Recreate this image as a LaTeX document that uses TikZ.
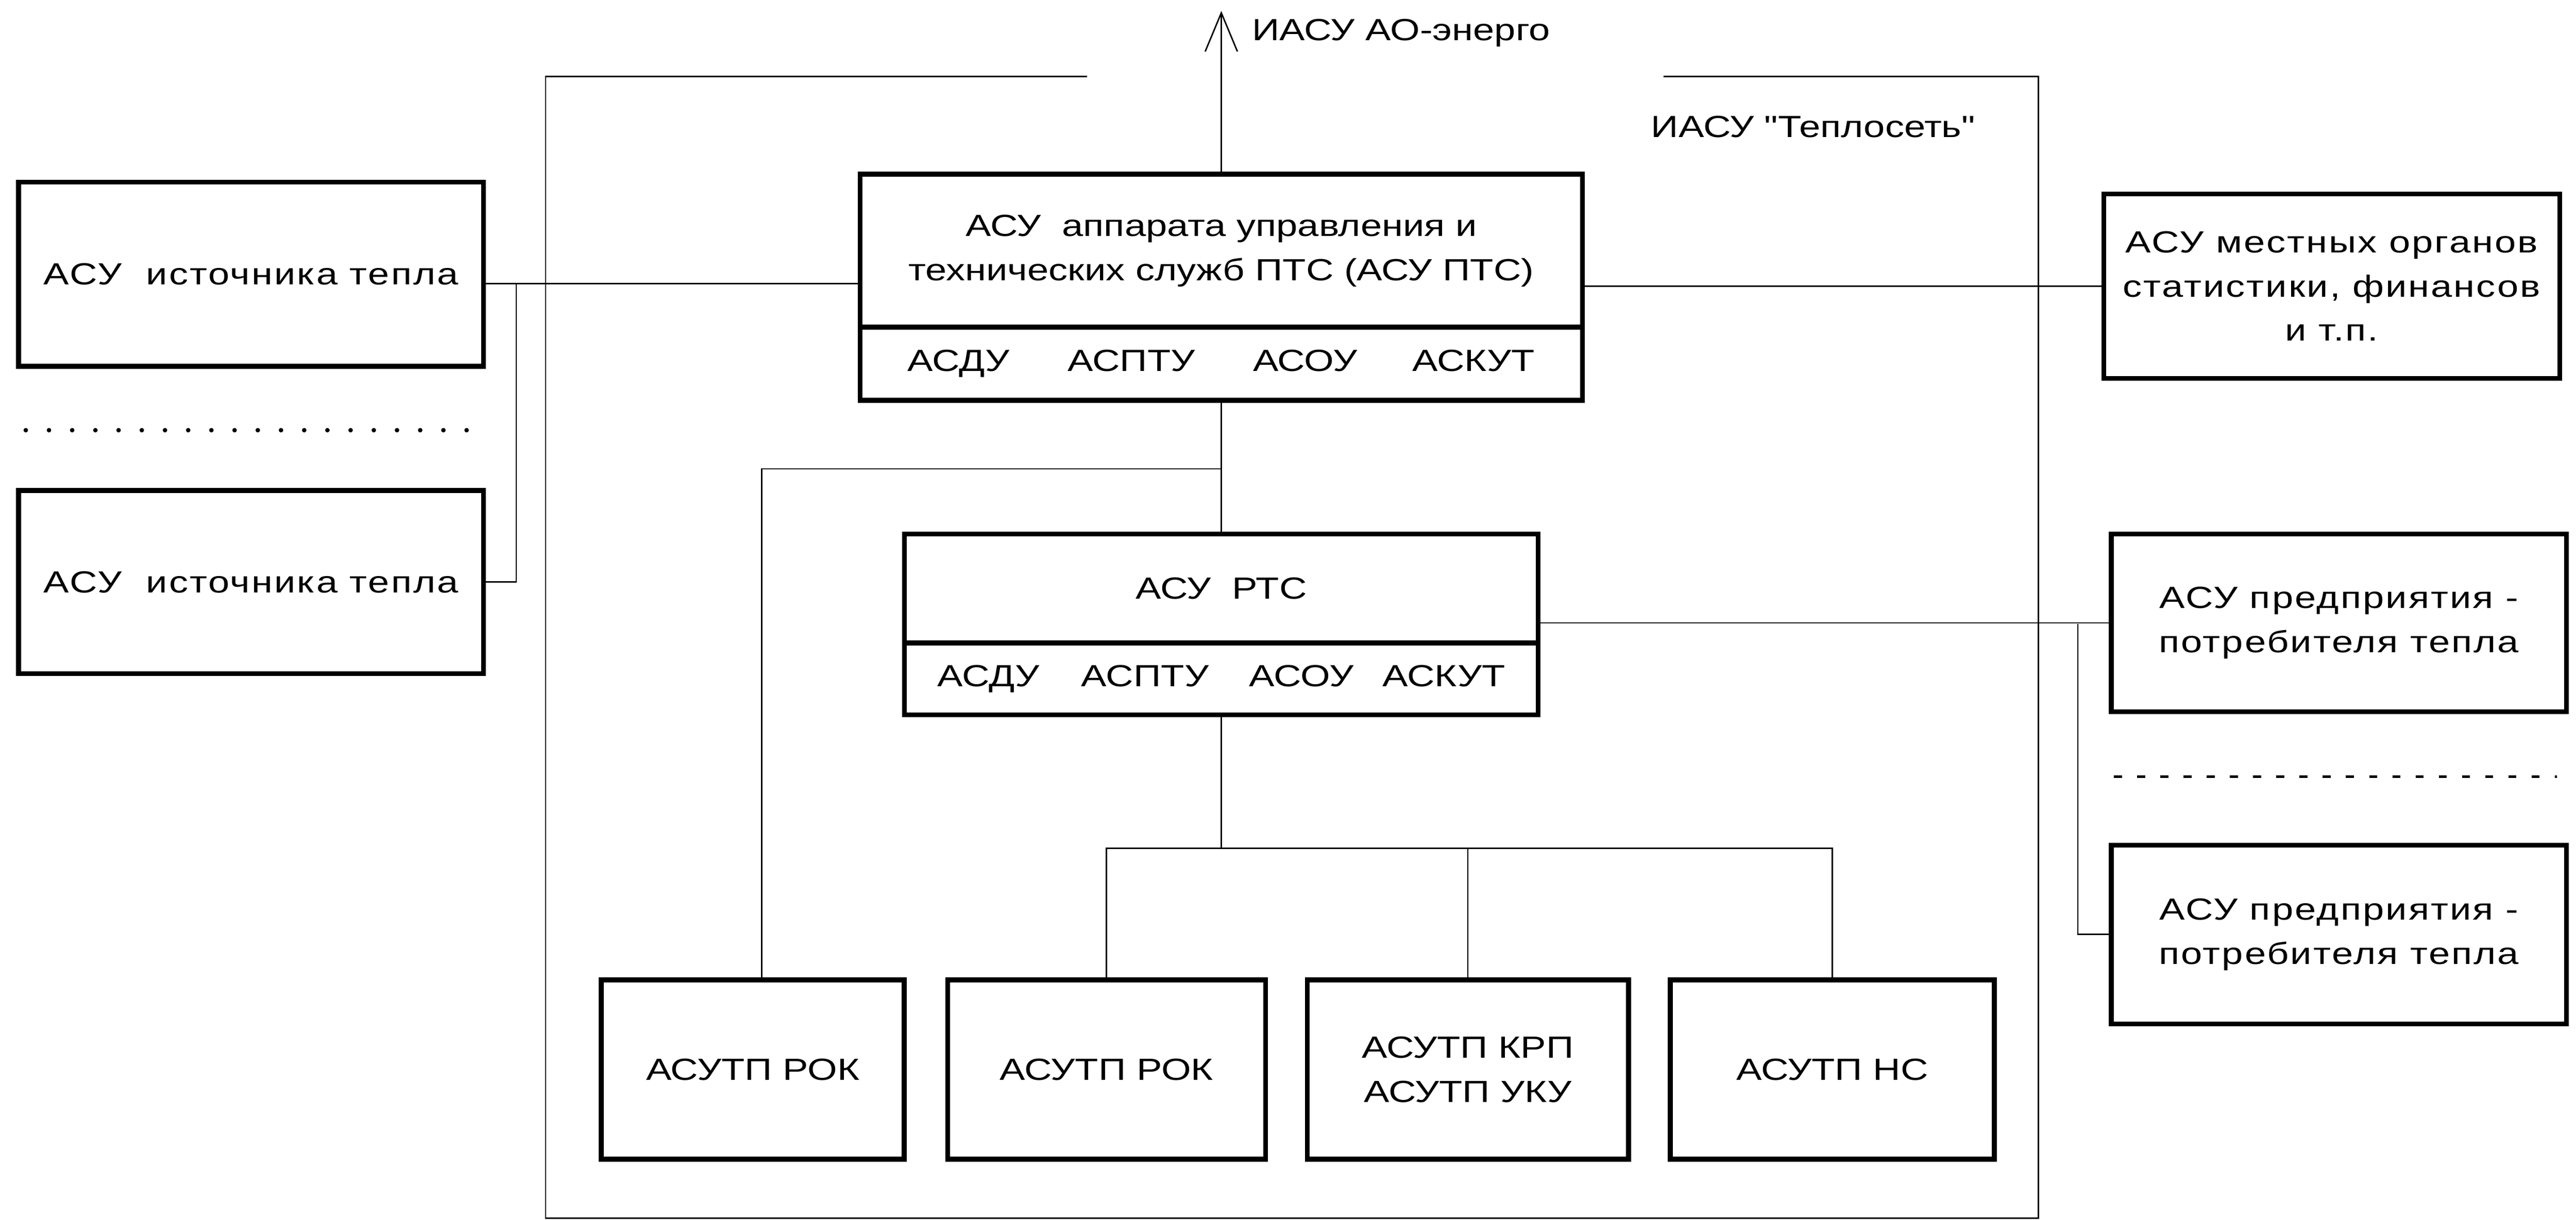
\documentclass[tikz,border=0pt]{standalone}
\usepackage{fontspec}
\newfontfamily\police{Liberation Sans}[FakeStretch=1.25]
\usetikzlibrary{arrows.meta}

\begin{document}
\begin{tikzpicture}
\tikzset{boite/.style={draw, line width=0.15cm, inner sep=0pt, outer sep=0pt, align=center, font=\police\fontsize{27}{39}\selectfont},
lien/.style={line width=0.045cm},
large/.style={font=\police\fontsize{27}{39}\selectfont\addfontfeature{LetterSpace=5}},
texte/.style={inner sep=0pt, font=\police\fontsize{27}{39}\selectfont}}
\useasboundingbox (0,0) rectangle (79.94,-37.85);
\draw[lien] (33.74,-2.37) -- (16.93,-2.37) -- (16.93,-37.8) -- (63.25,-37.8) -- (63.25,-2.37) -- (51.63,-2.37);
\node[boite, large, minimum width=14.43cm, minimum height=5.72cm] (S1) at (7.79,-8.51) {АСУ\ \ источника тепла};
\node[boite, large, minimum width=14.43cm, minimum height=5.68cm] (S2) at (7.79,-18.06) {АСУ\ \ источника тепла};
\node[boite, minimum width=22.42cm, minimum height=4.75cm] (PTS) at (37.9,-7.78) {АСУ\ \ аппарата управления и\\технических служб ПТС (АСУ ПТС)};
\node[boite, minimum width=22.42cm, minimum height=2.27cm, anchor=north] (PTSs) at (PTS.south) {АСДУ\hspace{1.8cm}АСПТУ\hspace{1.8cm}АСОУ\hspace{1.7cm}АСКУТ};
\node[boite, minimum width=19.67cm, minimum height=3.38cm] (RTS) at (37.9,-18.26) {АСУ\ \ РТС};
\node[boite, minimum width=19.67cm, minimum height=2.23cm, anchor=north] (RTSs) at (RTS.south) {АСДУ\hspace{1.3cm}АСПТУ\hspace{1.25cm}АСОУ\hspace{0.9cm}АСКУТ};
\node[boite, large, minimum width=14.15cm, minimum height=5.72cm] (ORG) at (72.36,-8.88) {АСУ местных органов\\статистики, финансов\\и т.п.};
\node[boite, large, minimum width=14.13cm, minimum height=5.52cm] (P1) at (72.58,-19.33) {АСУ предприятия -\\потребителя тепла};
\node[boite, large, minimum width=14.13cm, minimum height=5.55cm] (P2) at (72.58,-29.0) {АСУ предприятия -\\потребителя тепла};
\node[boite, minimum width=9.4cm, minimum height=5.56cm] (T1) at (23.36,-33.19) {АСУТП РОК};
\node[boite, minimum width=9.86cm, minimum height=5.56cm] (T2) at (34.34,-33.19) {АСУТП РОК};
\node[boite, minimum width=9.97cm, minimum height=5.56cm] (T3) at (45.55,-33.19) {АСУТП КРП\\АСУТП УКУ};
\node[boite, minimum width=10.06cm, minimum height=5.56cm] (T4) at (56.86,-33.19) {АСУТП НС};
\node[texte, anchor=west] (AO) at (38.85,-1.02) {ИАСУ АО-энерго};
\node[texte, anchor=west] (TS) at (51.23,-3.93) {ИАСУ "Теплосеть"};
\coordinate (haut) at (37.9,-0.34);
\coordinate (hubL) at (16.02,-8.8);
\coordinate (tapL) at (37.9,-14.55);
\coordinate (hubR) at (64.48,-19.36);
\coordinate (bus) at (37.9,-26.33);
\draw[lien, -{Straight Barb[length=1.2cm, width=1cm]}] (PTS.north) -- (haut);
\draw[lien] (S1.east |- hubL) -- (PTS.west |- hubL);
\draw[lien] (hubL) |- (S2.east);
\draw[lien] (PTS.east |- ORG.west) -- (ORG.west);
\draw[lien] (PTSs.south) -- (RTS.north);
\draw[lien] (tapL) -| ([xshift=0.28cm]T1.north);
\draw[lien] (RTS.east |- P1.west) -- (P1.west);
\draw[lien] (hubR) |- (P2.west);
\draw[lien] (RTSs.south) -- (bus);
\draw[lien] (T2.north) |- (T4.north |- bus) -- (T4.north);
\draw[lien] (T3.north) -- (T3.north |- bus);
% pointilles
\draw[line width=0.14cm, line cap=round, dash pattern=on 0pt off 0.72cm] (0.8,-13.35) -- (14.64,-13.35);
\draw[line width=0.08cm, dash pattern=on 0.25cm off 0.47cm] (65.6,-24.1) -- (79.34,-24.1);
\end{tikzpicture}
\end{document}
